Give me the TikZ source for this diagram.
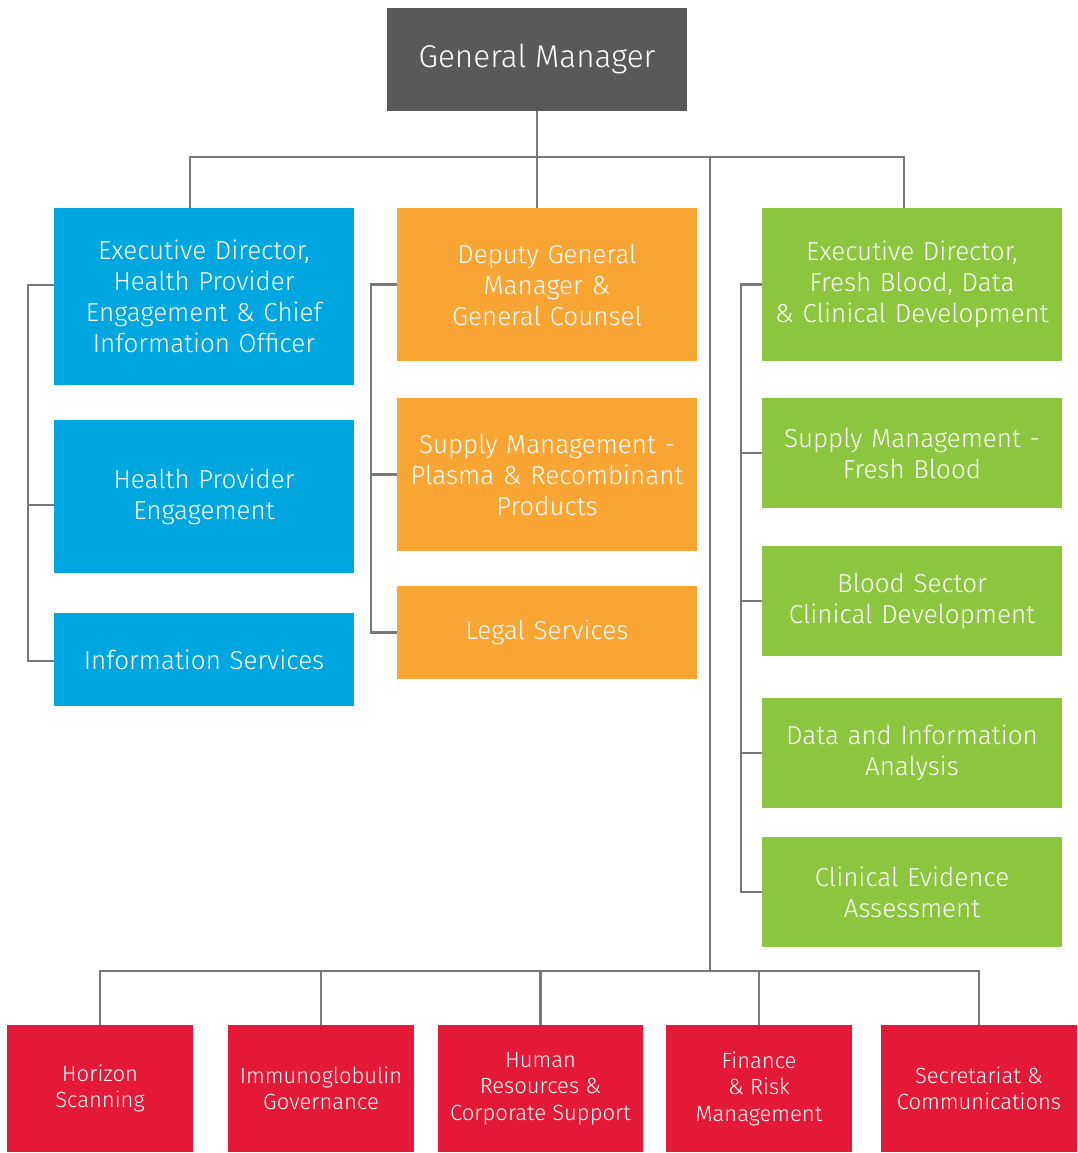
\documentclass[tikz,border=0pt]{standalone}
\usepackage{fontspec}
\setmainfont{Fira Sans Light}
\usetikzlibrary{positioning}
\usetikzlibrary{calc}
\definecolor{gmgray}{HTML}{58595B}
\definecolor{linegray}{HTML}{77787B}
\definecolor{hpblue}{HTML}{00A6E0}
\definecolor{dgmorange}{HTML}{F9A533}
\definecolor{fbgreen}{HTML}{8CC63F}
\definecolor{corpred}{HTML}{E41937}
\tikzset{box/.style={text=white,align=center,inner sep=0pt,font=\fontsize{26}{31}\selectfont},
bluebox/.style={box,fill=hpblue,minimum width=300,text width=296},
orangebox/.style={box,fill=dgmorange,minimum width=300,text width=296},
greenbox/.style={box,fill=fbgreen,minimum width=300,text width=296},
redbox/.style={box,fill=corpred,minimum height=127,font=\fontsize{22}{26.5}\selectfont},
link/.style={draw=linegray,line width=2.5pt}}

\begin{document}
\begin{tikzpicture}[x=1pt,y=-1pt]
\useasboundingbox (0,0) rectangle (1077,1153);
\node[box,fill=gmgray,minimum width=300,minimum height=103,font=\fontsize{31.5}{36}\selectfont] (gm) at (537,59.5) {General Manager};
% blue column
\node[bluebox,minimum height=177] (edhp) at (204,296.5) {Executive Director,\\Health Provider\\Engagement \& Chief\\Information Officer};
\node[bluebox,minimum height=153] (hpe) at (204,496.5) {Health Provider\\Engagement};
\node[bluebox,minimum height=93] (infos) at (204,659.5) {Information Services};
% orange column
\node[orangebox,minimum height=153] (dgm) at (547,284.5) {Deputy General\\Manager \&\\General Counsel};
\node[orangebox,minimum height=153] (smprp) at (547,474.5) {Supply Management -\\Plasma \& Recombinant\\Products};
\node[orangebox,minimum height=93] (legal) at (547,632.5) {Legal Services};
% green column
\node[greenbox,minimum height=153] (edfb) at (912,284.5) {Executive Director,\\Fresh Blood, Data\\\& Clinical Development};
\node[greenbox,minimum height=110] (smfb) at (912,453) {Supply Management -\\Fresh Blood};
\node[greenbox,minimum height=110] (bscd) at (912,601) {Blood Sector\\Clinical Development};
\node[greenbox,minimum height=110] (dia) at (912,753) {Data and Information\\Analysis};
\node[greenbox,minimum height=110] (cea) at (912,892) {Clinical Evidence\\Assessment};
% red row
\node[redbox,minimum width=186] (hs) at (100,1088.5) {Horizon\\Scanning};
\node[redbox,minimum width=186] (ig) at (321,1088.5) {Immunoglobulin\\Governance};
\node[redbox,minimum width=205] (hr) at (540.5,1088.5) {Human\\Resources \&\\Corporate Support};
\node[redbox,minimum width=186] (frm) at (759,1088.5) {Finance\\\& Risk\\Management};
\node[redbox,minimum width=196] (sc) at (979,1088.5) {Secretariat \&\\Communications};

\coordinate (bus) at (537,157);
\coordinate (trunk) at (710,157);
\coordinate (lowbus) at (710,971);
\draw[link] (gm.south) -- (bus);
\draw[link] ([xshift=-14pt]edhp.north) |- (bus) -| ([xshift=-8pt]edfb.north);
\draw[link] (bus) -- ([xshift=-10pt]dgm.north);
\draw[link] (trunk) -- (lowbus);
\draw[link] (hs.north) |- (lowbus) -| (sc.north);
\foreach \n in {ig,hr,frm} {
\draw[link] (\n.north) -- (\n.north |- lowbus);
}
% side brackets
\draw[link] ($(edhp.west)+(0,-11.5)$) -| ++(-26,0) |- ($(infos.west)+(0,1.5)$);
\draw[link] ($(hpe.west)+(0,8.5)$) -- ++(-26,0);
\draw[link] (dgm.west) -- ++(-26,0) |- (legal.west);
\draw[link] (smprp.west) -- ++(-26,0);
\draw[link] (edfb.west) -- ++(-21,0) |- (cea.west);
\foreach \n in {smfb,bscd,dia} {
\draw[link] (\n.west) -- ++(-21,0);
}
\end{tikzpicture}
\end{document}
